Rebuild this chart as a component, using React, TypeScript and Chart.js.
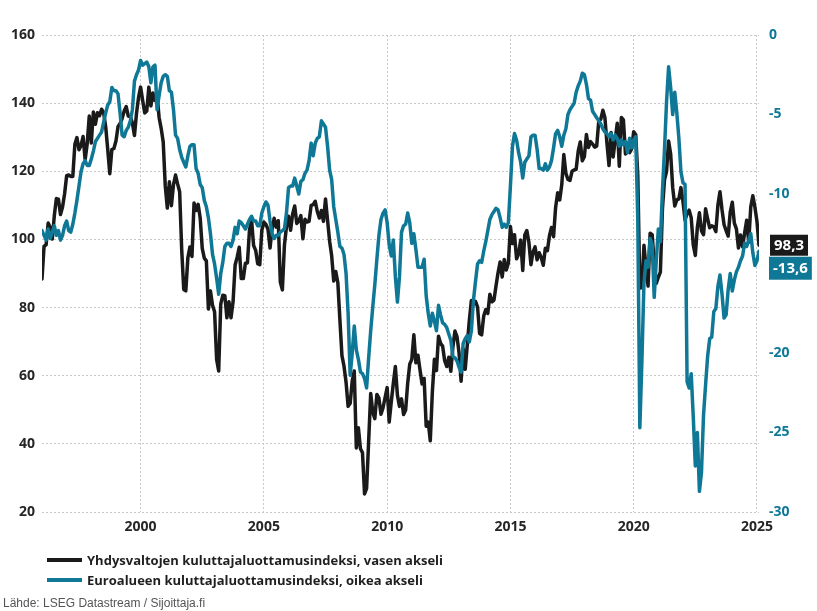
import React, { useEffect, useRef } from "react";
import { Chart, registerables } from "chart.js";

Chart.register(...registerables);

// Monthly data from January 1996 to February 2025
const START_YEAR = 1996;

// Conference Board consumer confidence index (USA), left axis
const usConfidence: number[] = [
  88.4, 98.0, 98.4, 104.8, 103.5, 100.1, 107.0, 112.0, 111.8, 107.3, 109.5, 113.4, // 1996
  118.7, 118.9, 118.5, 118.5, 127.9, 129.9, 126.3, 127.6, 130.2, 123.4, 128.1, 136.2, // 1997
  128.3, 137.4, 133.8, 137.2, 136.3, 138.2, 137.2, 133.1, 126.4, 119.3, 126.4, 126.7, // 1998
  128.9, 133.1, 134.0, 135.5, 137.7, 139.0, 136.2, 136.0, 134.2, 130.5, 137.0, 141.7, // 1999
  144.7, 140.8, 137.1, 137.7, 144.7, 139.2, 143.0, 140.8, 142.5, 135.8, 132.6, 128.6, // 2000
  115.7, 109.2, 116.9, 109.9, 116.1, 118.9, 116.3, 114.0, 97.0, 85.3, 84.9, 94.6, // 2001
  97.8, 95.0, 110.7, 108.5, 110.3, 106.3, 97.4, 94.5, 93.7, 79.6, 84.9, 80.7, // 2002
  78.8, 64.8, 61.4, 81.0, 83.6, 83.5, 77.0, 81.7, 77.0, 81.7, 92.5, 94.8, // 2003
  97.7, 88.5, 88.5, 93.0, 93.1, 102.8, 105.7, 98.2, 96.8, 92.9, 92.6, 102.7, // 2004
  105.1, 104.4, 103.0, 97.5, 103.1, 106.2, 103.6, 105.5, 87.5, 85.2, 98.3, 103.8, // 2005
  106.8, 102.7, 107.5, 109.8, 104.7, 105.4, 107.0, 100.2, 105.9, 105.1, 105.3, 110.0, // 2006
  110.2, 111.2, 108.2, 106.3, 108.5, 105.3, 111.9, 105.6, 99.5, 95.2, 87.8, 90.6, // 2007
  87.3, 76.4, 65.9, 62.8, 58.1, 51.0, 51.9, 58.5, 61.4, 38.8, 44.7, 38.6, // 2008
  37.4, 25.3, 26.9, 40.8, 54.8, 49.3, 47.4, 54.5, 53.4, 48.7, 50.6, 53.6, // 2009
  56.5, 46.4, 52.3, 57.7, 62.7, 54.3, 51.0, 53.2, 48.6, 49.9, 57.8, 63.4, // 2010
  64.8, 72.0, 63.8, 66.0, 61.7, 57.6, 59.2, 45.2, 46.4, 40.9, 55.2, 64.8, // 2011
  61.5, 71.6, 69.5, 68.7, 64.4, 62.7, 65.4, 61.3, 68.4, 73.1, 71.5, 66.7, // 2012
  58.4, 68.0, 61.9, 69.0, 76.2, 82.1, 81.0, 81.8, 80.2, 72.4, 72.0, 77.5, // 2013
  79.4, 78.3, 83.9, 81.7, 82.2, 86.4, 90.3, 93.4, 89.0, 94.1, 91.0, 93.1, // 2014
  103.8, 98.8, 101.4, 94.3, 95.8, 99.8, 90.9, 101.3, 102.6, 99.1, 92.6, 96.3, // 2015
  97.8, 94.0, 96.1, 94.7, 92.4, 97.4, 96.7, 101.1, 103.5, 100.8, 109.4, 113.7, // 2016
  111.6, 116.1, 124.9, 119.4, 117.6, 117.3, 120.0, 120.4, 120.6, 125.9, 128.6, 123.1, // 2017
  124.3, 130.8, 127.0, 128.7, 128.0, 127.1, 127.4, 134.7, 135.3, 137.9, 135.7, 128.1, // 2018
  121.7, 131.4, 124.2, 129.2, 134.1, 121.5, 135.8, 135.1, 125.1, 125.9, 125.5, 126.5, // 2019
  131.6, 130.7, 118.8, 85.7, 85.9, 98.3, 91.7, 86.3, 101.8, 101.4, 92.9, 87.1, // 2020
  88.9, 90.4, 109.0, 117.5, 120.0, 128.9, 125.1, 115.2, 109.8, 111.6, 111.9, 115.2, // 2021
  111.1, 105.7, 107.6, 108.6, 106.4, 98.4, 95.3, 103.6, 107.8, 102.5, 101.4, 109.0, // 2022
  106.0, 103.4, 104.0, 103.7, 102.3, 110.1, 114.0, 108.7, 104.3, 102.6, 101.0, 108.0, // 2023
  110.9, 104.8, 103.1, 97.5, 101.3, 97.8, 101.9, 105.6, 99.2, 109.6, 112.8, 109.5, // 2024
  105.3, 98.3, // 2025
];

// Euro area consumer confidence indicator, right axis
const euroConfidence: number[] = [
  -12.3, -12.6, -12.9, -12.2, -12.8, -12.4, -12.0, -12.6, -12.3, -12.9, -12.6, -12.0, // 1996
  -11.7, -12.3, -12.4, -11.9, -11.2, -10.4, -9.5, -8.6, -8.1, -7.9, -8.2, -8.2, // 1997
  -7.8, -7.3, -6.7, -6.5, -6.3, -6.1, -5.5, -4.9, -4.4, -4.2, -3.3, -3.5, // 1998
  -3.5, -3.7, -4.9, -6.3, -6.4, -6.0, -5.8, -5.4, -4.7, -2.9, -2.5, -2.2, // 1999
  -1.6, -1.9, -1.8, -1.7, -2.0, -3.0, -2.0, -1.9, -4.7, -3.8, -3.0, -2.6, // 2000
  -2.5, -2.6, -3.5, -3.6, -4.7, -6.3, -6.5, -7.2, -7.7, -8.0, -8.3, -7.6, // 2001
  -7.0, -6.9, -6.9, -8.4, -8.7, -9.4, -9.6, -10.4, -10.8, -11.5, -12.5, -13.8, // 2002
  -14.4, -15.3, -16.3, -15.0, -14.3, -13.3, -13.1, -13.1, -13.3, -12.9, -12.1, -12.5, // 2003
  -11.7, -11.8, -12.0, -12.2, -11.9, -11.6, -11.4, -11.7, -11.7, -12.0, -12.0, -11.2, // 2004
  -10.8, -10.5, -10.7, -11.7, -12.5, -12.8, -12.6, -12.6, -12.4, -12.3, -12.2, -11.2, // 2005
  -9.6, -9.5, -9.5, -9.0, -9.5, -10.0, -9.2, -9.1, -8.7, -8.5, -7.9, -6.8, // 2006
  -7.6, -6.8, -6.5, -6.4, -5.4, -5.6, -5.8, -7.0, -8.5, -9.1, -10.8, -11.6, // 2007
  -12.4, -13.3, -13.4, -13.8, -15.0, -17.5, -21.4, -20.0, -18.3, -19.8, -20.4, -21.2, // 2008
  -21.3, -21.6, -22.2, -20.3, -18.6, -17.1, -15.7, -14.1, -12.6, -11.6, -11.2, -11.0, // 2009
  -11.8, -13.2, -13.9, -12.9, -15.2, -16.8, -15.2, -12.4, -12.0, -11.9, -11.2, -11.8, // 2010
  -13.1, -12.5, -13.5, -14.6, -14.6, -14.6, -14.1, -16.4, -17.5, -18.3, -17.5, -18.0, // 2011
  -18.6, -17.0, -17.6, -18.1, -18.2, -18.4, -18.8, -19.2, -20.2, -20.3, -20.5, -20.9, // 2012
  -21.2, -19.4, -19.1, -18.9, -19.3, -18.6, -16.7, -15.5, -14.4, -14.2, -14.3, -13.6, // 2013
  -13.0, -12.3, -11.6, -11.3, -11.1, -10.9, -11.0, -11.5, -12.1, -11.9, -12.1, -11.8, // 2014
  -9.5, -7.0, -6.2, -6.6, -7.4, -8.0, -9.0, -8.0, -7.8, -7.6, -6.4, -6.3, // 2015
  -6.3, -7.2, -8.4, -8.4, -8.5, -8.1, -8.5, -8.3, -7.9, -7.1, -6.2, -6.0, // 2016
  -6.4, -7.0, -6.3, -5.9, -5.0, -4.7, -4.5, -4.3, -3.6, -3.2, -2.9, -2.4, // 2017
  -2.5, -3.1, -4.0, -4.1, -4.8, -5.0, -5.2, -5.4, -5.6, -5.9, -6.1, -6.2, // 2018
  -6.4, -6.2, -6.6, -6.3, -6.5, -7.0, -6.6, -6.9, -6.7, -7.4, -6.5, -7.1, // 2019
  -6.6, -6.4, -11.6, -24.7, -20.5, -15.6, -14.2, -14.6, -12.8, -13.2, -16.5, -14.2, // 2020
  -12.2, -13.0, -9.8, -7.2, -4.2, -2.0, -3.3, -5.0, -3.6, -4.9, -6.5, -8.6, // 2021
  -9.3, -9.4, -21.8, -22.2, -21.3, -24.0, -27.1, -25.0, -28.7, -27.5, -23.9, -22.0, // 2022
  -20.2, -19.1, -19.0, -17.4, -17.2, -15.8, -15.1, -16.3, -17.8, -17.6, -16.0, -15.0, // 2023
  -16.1, -15.4, -14.9, -14.6, -14.2, -13.9, -13.1, -13.3, -12.9, -12.5, -13.7, -14.5, // 2024
  -14.2, -13.6, // 2025
];

const xTickYears = [2000, 2005, 2010, 2015, 2020, 2025];
const leftAxis = { min: 20, max: 160, step: 20 };
const rightAxis = { min: -30, max: 0, step: 5 };

const usLabel = "Yhdysvaltojen kuluttajaluottamusindeksi, vasen akseli";
const euroLabel = "Euroalueen kuluttajaluottamusindeksi, oikea akseli";
const sourceText = "Lähde: LSEG Datastream / Sijoittaja.fi";

const BLACK = "#1a1a1a";
const TEAL = "#0f7896";
const TICK_FONT = { family: "'Open Sans', sans-serif", size: 14, weight: "bold" as const };

const toPoints = (values: number[]) =>
  values.map((v, i) => ({ x: START_YEAR + i / 12, y: v }));

const fmt = (v: number) => v.toFixed(1).replace(".", ",");

const endLabelsPlugin = {
  id: "endLabels",
  afterDatasetsDraw(chart: any) {
    const ctx = chart.ctx as CanvasRenderingContext2D;
    const yL = chart.scales.yL;
    const yR = chart.scales.yR;
    const usLast = usConfidence[usConfidence.length - 1];
    const euLast = euroConfidence[euroConfidence.length - 1];
    const x0 = chart.chartArea.right + 10;
    const h = 21;
    ctx.save();
    ctx.font = "bold 15px 'Open Sans', sans-serif";
    ctx.textBaseline = "middle";
    ctx.textAlign = "left";

    const yB = yL.getPixelForValue(usLast);
    let yT = yR.getPixelForValue(euLast);
    if (yT < yB + h + 1) yT = yB + h + 1;

    const t1 = fmt(usLast);
    const w1 = ctx.measureText(t1).width + 8;
    ctx.fillStyle = BLACK;
    ctx.fillRect(x0 + 1, yB - h / 2, w1, h);
    ctx.fillStyle = "#ffffff";
    ctx.fillText(t1, x0 + 5, yB + 1);

    const t2 = fmt(euLast);
    const w2 = ctx.measureText(t2).width + 8;
    ctx.fillStyle = TEAL;
    ctx.fillRect(x0, yT - h / 2, w2, h + 2);
    ctx.fillStyle = "#ffffff";
    ctx.fillText(t2, x0 + 4, yT + 2);
    ctx.restore();
  },
};

export default function App() {
  const canvasRef = useRef<HTMLCanvasElement | null>(null);

  useEffect(() => {
    const canvas = canvasRef.current;
    if (!canvas) return;
    const gridColor = "#c9c9c9";
    const chart = new Chart(canvas, {
      type: "line",
      data: {
        datasets: [
          {
            label: usLabel,
            data: toPoints(usConfidence),
            yAxisID: "yL",
            borderColor: BLACK,
            backgroundColor: BLACK,
            borderWidth: 3.5,
            pointRadius: 0,
            order: 2,
          },
          {
            label: euroLabel,
            data: toPoints(euroConfidence),
            yAxisID: "yR",
            borderColor: TEAL,
            backgroundColor: TEAL,
            borderWidth: 3.5,
            pointRadius: 0,
            order: 1,
          },
        ],
      },
      options: {
        animation: false,
        responsive: false,
        maintainAspectRatio: false,
        layout: { padding: { top: 35, bottom: 66, left: 0, right: 0 } },
        elements: {
          line: { tension: 0, borderJoinStyle: "round", borderCapStyle: "round" },
          point: { radius: 0 },
        },
        plugins: {
          legend: { display: false },
          tooltip: { enabled: false },
        },
        scales: {
          x: {
            type: "linear",
            min: START_YEAR,
            max: START_YEAR + (usConfidence.length - 1) / 12,
            afterBuildTicks: (scale: any) => {
              scale.ticks = xTickYears.map((v) => ({ value: v }));
            },
            afterFit: (scale: any) => {
              scale.height = 33;
            },
            grid: { color: gridColor, lineWidth: 1, drawTicks: false },
            border: { display: false, dash: [2, 2] },
            ticks: {
              autoSkip: false,
              maxRotation: 0,
              padding: 7,
              color: "#262626",
              font: TICK_FONT,
              callback: (v: any) => String(v),
            },
          },
          yL: {
            type: "linear",
            position: "left",
            min: leftAxis.min,
            max: leftAxis.max,
            afterFit: (scale: any) => {
              scale.width = 42;
            },
            grid: { color: gridColor, lineWidth: 1, drawTicks: false },
            border: { display: false, dash: [2, 2] },
            ticks: {
              stepSize: leftAxis.step,
              padding: 7,
              color: "#262626",
              font: TICK_FONT,
              callback: (v: any) => String(v),
            },
          },
          yR: {
            type: "linear",
            position: "right",
            min: rightAxis.min,
            max: rightAxis.max,
            afterFit: (scale: any) => {
              scale.width = 58;
            },
            grid: { display: false, drawTicks: false },
            border: { display: false },
            ticks: {
              stepSize: rightAxis.step,
              padding: 10,
              color: TEAL,
              font: TICK_FONT,
              callback: (v: any) => String(v),
            },
          },
        },
      },
      plugins: [endLabelsPlugin],
    } as any);
    return () => chart.destroy();
  }, []);

  const legendRow = (color: string, text: string, top: number) => (
    <div style={{ position: "absolute", left: 0, top, height: 20, width: 817 }}>
      <div
        style={{
          position: "absolute",
          left: 47,
          top: 8,
          width: 35,
          height: 4,
          background: color,
        }}
      />
      <span
        style={{
          position: "absolute",
          left: 87,
          top: 0,
          lineHeight: "20px",
          fontFamily: "'Open Sans', sans-serif",
          fontWeight: 700,
          fontSize: 13,
          color: "#1f1f1f",
          whiteSpace: "nowrap",
        }}
      >
        {text}
      </span>
    </div>
  );

  return (
    <div
      style={{
        position: "absolute",
        left: 0,
        top: 0,
        width: 817,
        height: 611,
        background: "#ffffff",
        overflow: "hidden",
      }}
    >
      <canvas ref={canvasRef} width={817} height={611} style={{ display: "block" }} />
      {legendRow(BLACK, usLabel, 550)}
      {legendRow(TEAL, euroLabel, 570)}
      <div
        style={{
          position: "absolute",
          left: 3,
          top: 595,
          lineHeight: "16px",
          fontFamily: "'Liberation Sans', Arial, sans-serif",
          fontSize: 12,
          color: "#555555",
          whiteSpace: "nowrap",
        }}
      >
        {sourceText}
      </div>
    </div>
  );
}
